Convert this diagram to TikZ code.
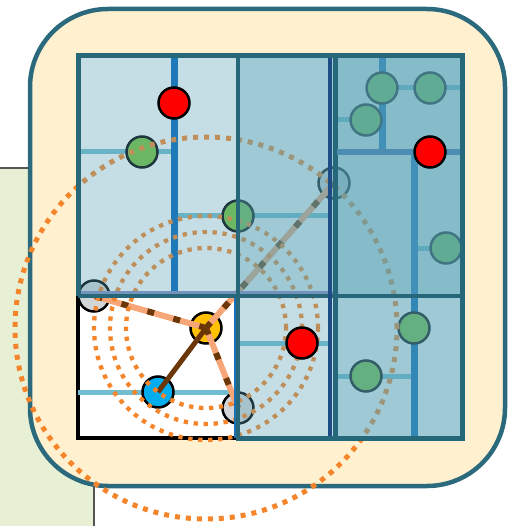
\documentclass[tikz,border=0pt]{standalone}
\begin{document}
\begin{tikzpicture}[x=1pt,y=-1pt]
\definecolor{bgreen}{HTML}{E7F0D5}
\definecolor{edgegray}{HTML}{555555}
\definecolor{cream}{HTML}{FFF0CF}
\definecolor{boxteal}{HTML}{2A6A7C}
\definecolor{gridteal}{HTML}{26687A}
\definecolor{navyc}{HTML}{1E4C86}
\definecolor{steelc}{HTML}{7393BD}
\definecolor{steeltwo}{HTML}{4E8DB2}
\definecolor{ovl}{HTML}{59A3B7}
\definecolor{streetblue}{HTML}{0061BA}
\definecolor{streetlight}{HTML}{73BDD1}
\definecolor{orng}{HTML}{F5852B}
\definecolor{peach}{HTML}{F7A677}
\definecolor{dbrown}{HTML}{6B3608}
\definecolor{ngreen}{HTML}{76C337}
\definecolor{gfill}{HTML}{D2D6D8}
\definecolor{ylw}{HTML}{FFC000}
\definecolor{cyn}{HTML}{00AEEF}
\definecolor{linkblue}{HTML}{1A6FB5}
\tikzset{
  pt/.style={circle, minimum size=31pt, inner sep=0pt, line width=2.5pt, draw=black},
  hub/.style={pt, fill=gfill},
  layer/.style={fill=ovl, fill opacity=0.35},
  street/.style={line width=5pt, draw=streetlight},
  avenue/.style={line width=7pt, draw=streetblue},
  orbit/.style={draw=orng, line width=4.3pt, dash pattern=on 4.3pt off 5.7pt},
  orbitbig/.style={draw=orng, line width=5pt, dash pattern=on 5pt off 6pt},
  link/.style={draw=peach, line width=6pt, postaction={draw=dbrown, line width=6pt, dash pattern=on 7pt off 20pt}},
}
\useasboundingbox (0,0) rectangle (508,526);
\clip (0,0) rectangle (508,526);
% background panels
\fill[bgreen, draw=edgegray, line width=1.5pt] (-10,168) rectangle (94,540);
\draw[boxteal, fill=cream, line width=4.5pt, rounded corners=78pt] (30,9) rectangle (505,486);
% grid base
\fill[white] (78,56) rectangle (462,438);
\draw[black, line width=4.5pt] (78,296) -- (78,438) -- (236,438);
% streets
\draw[street] (80,152) -- (174,152);
\draw[street] (174,216) -- (330,216);
\draw[street] (382,88) -- (462,88);
\draw[street] (337,120) -- (366,120);
\draw[street] (414,248) -- (446,248);
\draw[street] (238,343) -- (330,343);
\draw[street] (337,376) -- (414,376);
\draw[street] (78,392) -- (236,392);
\draw[avenue] (174,56) -- (174,294);
\draw[avenue] (382,56) -- (382,152);
\draw[avenue] (414,152) -- (414,438);
% hubs
\node[hub] (h1) at (94,296) {};
\node[hub] (h2) at (238,408) {};
\node[hub] (h3) at (334,183) {};
% green points
\node[pt, fill=ngreen] (g1) at (142,152) {};
\node[pt, fill=ngreen] (g2) at (238,216) {};
\node[pt, fill=ngreen] (g3) at (382,88) {};
\node[pt, fill=ngreen] (g4) at (430,88) {};
\node[pt, fill=ngreen] (g5) at (366,120) {};
\node[pt, fill=ngreen] (g6) at (446,248) {};
\node[pt, fill=ngreen] (g7) at (414,328) {};
\node[pt, fill=ngreen] (g8) at (366,376) {};
% query
\node[pt, fill=ylw] (q) at (206,328) {};
\node[pt, fill=cyn] (c) at (158,392) {};
% links
\draw[link] (q.center) -- (h1.center);
\draw[link] (q.center) -- (h2.center);
\draw[link] (q.center) -- (h3.center);
\draw[dbrown, line width=5pt] (c.center) -- (q.center);
% orbits
\draw[orbit] (q.center) circle[radius=80pt];
\draw[orbit] (q.center) circle[radius=96pt];
\draw[orbit] (q.center) circle[radius=112pt];
\draw[orbitbig] (q.center) circle[radius=191pt];
% cell overlays
\fill[layer] (78,56) rectangle (462,296);
\fill[layer] (238,296) rectangle (462,438);
\fill[layer] (238,56) rectangle (462,296);
\fill[layer] (333,296) rectangle (462,438);
\fill[layer] (333,56) rectangle (462,296);
% grid lines
\draw[steelc, line width=7pt] (78,294) -- (333,294);
\draw[gridteal, line width=3.5pt] (78,296) -- (462,296);
\draw[gridteal, line width=3.5pt] (238,56) -- (238,438);
\draw[linkblue, line width=2.5pt] (235,298) -- (235,438);
\draw[navyc, line width=3.5pt] (330,56) -- (330,438);
\draw[gridteal, line width=4.5pt] (335.5,56) -- (335.5,438);
\draw[steeltwo, line width=6pt] (337,152) -- (462,152);
\draw[gridteal, line width=5pt] (78,296) -- (78,56) -- (462,56) -- (462,438) -- (236,438);
% red points
\node[pt, fill=red] (r1) at (174,103) {};
\node[pt, fill=red] (r2) at (430,152) {};
\node[pt, fill=red] (r3) at (302,343) {};
\end{tikzpicture}
\end{document}
